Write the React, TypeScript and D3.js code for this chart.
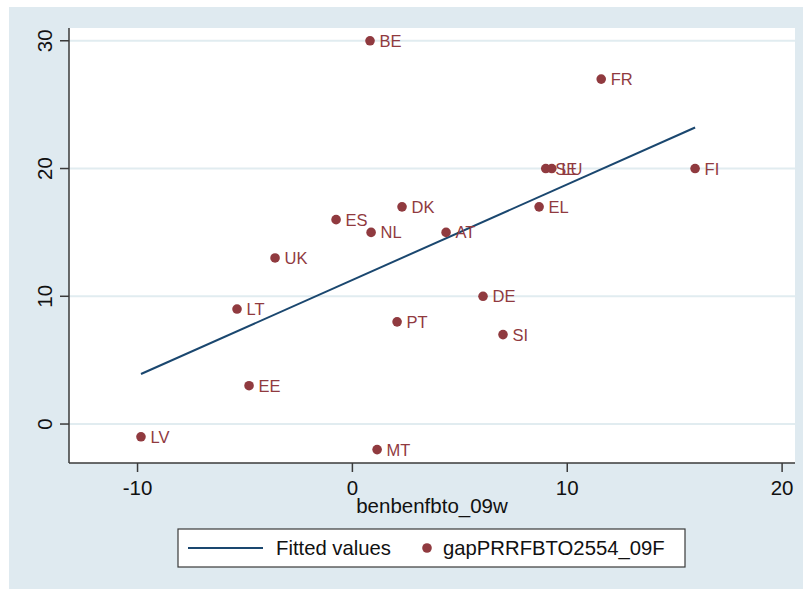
import React from "react";
import * as d3 from "d3";

const countries = ["BE", "FR", "SE", "LU", "FI", "EL", "DK", "ES", "NL", "AT", "UK", "DE", "LT", "PT", "SI", "EE", "LV", "MT"];
const xValues = [0.82, 11.58, 9.0, 9.28, 15.95, 8.69, 2.31, -0.76, 0.87, 4.36, -3.6, 6.08, -5.37, 2.08, 7.01, -4.81, -9.84, 1.15];
const yValues = [30, 27, 20, 20, 20, 17, 17, 16, 15, 15, 13, 10, 9, 8, 7, 3, -1, -2];
const xTicks = [-10, 0, 10, 20];
const yTicks = [0, 10, 20, 30];
const xTitle = "benbenfbto_09w";
const legendLine = "Fitted values";
const legendDots = "gapPRRFBTO2554_09F";

const W = 803;
const H = 589;
const plot = { left: 69, right: 795, top: 28, bottom: 463 };
const BG = "#dfeaf0";
const GRID = "#e1ecf0";
const MAROON = "#903a3f";
const NAVY = "#1a476f";
const AXIS = "#3a3a3a";
const FONT = "'Liberation Sans', Arial, Helvetica, sans-serif";

export default function App() {
  const x = d3.scaleLinear().domain([-13.19, 20.6]).range([plot.left, plot.right]);
  const y = d3.scaleLinear().domain([-3.05, 31.0]).range([plot.bottom, plot.top]);

  const n = xValues.length;
  const mx = d3.mean(xValues)!;
  const my = d3.mean(yValues)!;
  let sxy = 0, sxx = 0;
  for (let i = 0; i < n; i++) {
    sxy += (xValues[i] - mx) * (yValues[i] - my);
    sxx += (xValues[i] - mx) ** 2;
  }
  const b = sxy / sxx;
  const a = my - b * mx;
  const [xmin, xmax] = d3.extent(xValues) as [number, number];
  const line = d3.line<number>().x((d) => x(d)).y((d) => y(a + b * d));

  return (
    <svg width={W} height={H} style={{ position: "absolute", left: 0, top: 0 }} fontFamily={FONT}>
      <rect x={9} y={7} width={W - 9} height={H - 7} fill={BG} />
      <rect x={plot.left} y={plot.top} width={plot.right - plot.left} height={plot.bottom - plot.top} fill="#ffffff" />
      {yTicks.map((t) => (
        <line key={"g" + t} x1={plot.left} x2={plot.right} y1={y(t)} y2={y(t)} stroke={GRID} strokeWidth={2} />
      ))}
      {/* axes */}
      <line x1={plot.left} x2={plot.left} y1={plot.top} y2={plot.bottom} stroke={AXIS} strokeWidth={1.5} />
      <line x1={plot.left} x2={plot.right} y1={plot.bottom} y2={plot.bottom} stroke={AXIS} strokeWidth={1.5} />
      {yTicks.map((t) => (
        <g key={"yt" + t}>
          <line x1={plot.left - 9} x2={plot.left} y1={y(t)} y2={y(t)} stroke={AXIS} strokeWidth={1.5} />
          <text transform={`translate(52,${y(t)}) rotate(-90)`} textAnchor="middle" fontSize={20.5} fill="#111">
            {t}
          </text>
        </g>
      ))}
      {xTicks.map((t) => (
        <g key={"xt" + t}>
          <line x1={x(t)} x2={x(t)} y1={plot.bottom} y2={plot.bottom + 9} stroke={AXIS} strokeWidth={1.5} />
          <text x={x(t)} y={495} textAnchor="middle" fontSize={20.5} fill="#111">
            {t}
          </text>
        </g>
      ))}
      <text x={(plot.left + plot.right) / 2} y={513} textAnchor="middle" fontSize={20.5} fill="#111">
        {xTitle}
      </text>
      {/* fitted line */}
      <path d={line([xmin, xmax]) || ""} fill="none" stroke={NAVY} strokeWidth={2} />
      {/* points */}
      {countries.map((c, i) => (
        <g key={c}>
          <circle cx={x(xValues[i])} cy={y(yValues[i])} r={4.8} fill={MAROON} />
          <text x={x(xValues[i]) + 9.5} y={y(yValues[i]) + 6} fontSize={16.5} fill={MAROON}>
            {c}
          </text>
        </g>
      ))}
      {/* legend */}
      <rect x={178} y={529} width={507} height={38} fill="#ffffff" stroke={AXIS} strokeWidth={1.2} />
      <line x1={188} x2={263} y1={548} y2={548} stroke={NAVY} strokeWidth={2} />
      <text x={276} y={555} fontSize={20.3} fill="#111">{legendLine}</text>
      <circle cx={427} cy={548} r={4.8} fill={MAROON} />
      <text x={443} y={555} fontSize={20.3} fill="#111">{legendDots}</text>
    </svg>
  );
}
